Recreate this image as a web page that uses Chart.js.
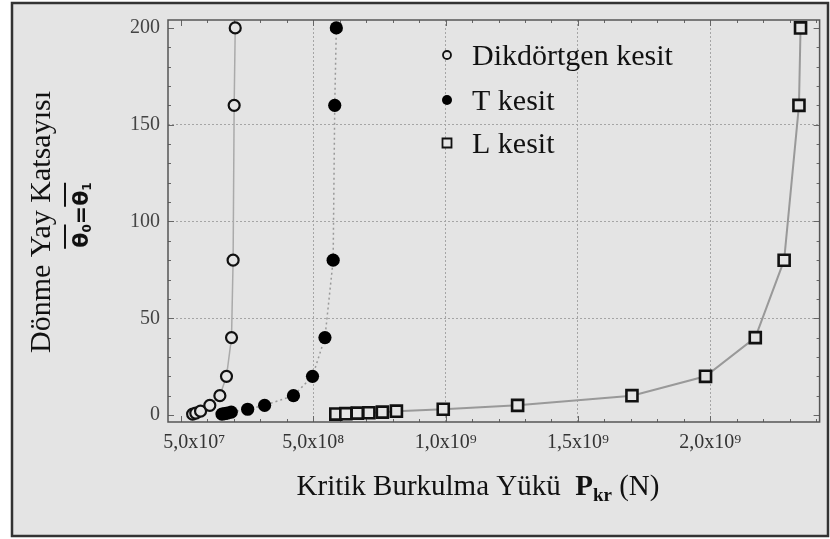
<!DOCTYPE html>
<html>
<head>
<meta charset="utf-8">
<script src="https://cdn.jsdelivr.net/npm/chart.js@4.4.0/dist/chart.umd.min.js"></script>
<style>
  html, body { margin: 0; padding: 0; background: #fff; }
  #wrap { width: 830px; height: 539px; }
</style>
</head>
<body>
<div id="wrap"><canvas id="grafik"></canvas></div>
<script>
// veriler
const dikX = [4.4e7, 5.6e7, 7.4e7, 1.09e8, 1.47e8, 1.72e8, 1.91e8, 1.97e8, 2.01e8, 2.05e8]
const dikY = [0.5, 1, 2, 5, 10, 20, 40, 80, 160, 200]
const tX = [1.55e8, 1.65e8, 1.75e8, 1.9e8, 2.52e8, 3.16e8, 4.25e8, 4.97e8, 5.44e8, 5.75e8, 5.81e8, 5.87e8]
const tY = [0.5, 0.7, 1, 1.5, 3, 5, 10, 20, 40, 80, 160, 200]
const lX = [5.85e8, 6.23e8, 6.66e8, 7.10e8, 7.61e8, 8.14e8, 9.91e8, 1.272e9, 1.704e9, 1.982e9, 2.170e9, 2.279e9, 2.335e9, 2.341e9]
const lY = [0.5, 0.7, 1, 1.2, 1.5, 2, 3, 5, 10, 20, 40, 80, 160, 200]

const seriesNames = ['Dikdörtgen kesit', 'T kesit', 'L kesit']
const xTickValues = [5e7, 5e8, 1e9, 1.5e9, 2e9]
const xTickLabels = ['5,0x10⁷', '5,0x10⁸', '1,0x10⁹', '1,5x10⁹', '2,0x10⁹']
const yTickValues = [0, 50, 100, 150, 200]

const BG = '#e4e4e4'
const serif = '"Liberation Serif", "Times New Roman", serif'

function pts(xs, ys) {
  return xs.map((x, i) => ({x: x, y: ys[i]}))
}

const decor = {
  id: 'decor',
  beforeDraw(chart) {
    const ctx = chart.ctx
    ctx.save()
    ctx.fillStyle = '#fff'
    ctx.fillRect(0, 0, chart.width, chart.height)
    ctx.fillStyle = BG
    ctx.fillRect(12, 3, 816, 533)
    ctx.strokeStyle = '#333'
    ctx.lineWidth = 2.5
    ctx.strokeRect(12, 3, 816, 533)
    ctx.restore()
  },
  beforeDatasetsDraw(chart) {
    const ctx = chart.ctx
    const a = chart.chartArea
    const xs = chart.scales.x, ys = chart.scales.y
    ctx.save()
    ctx.strokeStyle = '#666'
    ctx.lineWidth = 1
    // kucuk tikler
    for (let v = 0; v <= 2.4e9; v += 1e8) {
      const px = Math.round(xs.getPixelForValue(v)) + 0.5
      const len = (v % 5e8 === 0) ? 6 : 3
      ctx.beginPath()
      ctx.moveTo(px, a.bottom); ctx.lineTo(px, a.bottom - len)
      ctx.moveTo(px, a.top); ctx.lineTo(px, a.top + len)
      ctx.stroke()
    }
    for (let v = 0; v <= 200; v += 10) {
      const py = Math.round(ys.getPixelForValue(v)) + 0.5
      const len = (v % 50 === 0) ? 6 : 3
      ctx.beginPath()
      ctx.moveTo(a.left, py); ctx.lineTo(a.left + len, py)
      ctx.moveTo(a.right, py); ctx.lineTo(a.right - len, py)
      ctx.stroke()
    }
    ctx.strokeStyle = '#555'
    ctx.lineWidth = 1.5
    ctx.strokeRect(a.left, a.top, a.right - a.left, a.bottom - a.top)
    ctx.restore()
  },
  afterDraw(chart) {
    const ctx = chart.ctx
    ctx.save()
    ctx.fillStyle = '#111'

    // lejant
    const lx = 447, ltx = 472, rows = [55, 100, 143]
    ctx.font = '30px ' + serif
    ctx.textBaseline = 'middle'
    ctx.textAlign = 'left'
    chart.data.datasets.forEach((ds, i) => {
      const y = rows[i]
      ctx.lineWidth = 1.8
      ctx.strokeStyle = '#111'
      ctx.beginPath()
      if (ds.pointStyle === 'rect') {
        ctx.rect(lx - 4.5, y - 4.5, 9, 9)
        ctx.fillStyle = BG; ctx.fill(); ctx.stroke()
      } else if (ds.pointBackgroundColor === '#000') {
        ctx.arc(lx, y, 5, 0, Math.PI * 2)
        ctx.fillStyle = '#000'; ctx.fill()
      } else {
        ctx.arc(lx, y, 4, 0, Math.PI * 2)
        ctx.fillStyle = BG; ctx.fill(); ctx.stroke()
      }
      ctx.fillStyle = '#111'
      ctx.fillText(ds.label, ltx, y + 2)
    })

    // y ekseni basligi
    ctx.save()
    ctx.translate(42, 222)
    ctx.rotate(-Math.PI / 2)
    ctx.textAlign = 'center'
    ctx.textBaseline = 'middle'
    ctx.font = '30px ' + serif
    ctx.fillText('Dönme Yay Katsayısı', 0, 0)
    ctx.restore()

    // kesir: θ0=θ1 (ust cizgili)
    ctx.save()
    ctx.translate(88, 215)
    ctx.rotate(-Math.PI / 2)
    ctx.textAlign = 'left'
    ctx.textBaseline = 'alphabetic'
    const big = 'bold 22px "DejaVu Sans"', small = 'bold 12px "DejaVu Sans"'
    const parts = [['θ', big, 0, true], ['0', small, 3, false], ['=', big, 0, false], ['θ', big, 0, true], ['1', small, 3, false]]
    let total = 0
    parts.forEach(p => { ctx.font = p[1]; total += ctx.measureText(p[0]).width })
    let u = -total / 2
    ctx.strokeStyle = '#111'
    ctx.lineWidth = 2
    parts.forEach(p => {
      ctx.font = p[1]
      const w = ctx.measureText(p[0]).width
      ctx.fillText(p[0], u, p[2])
      if (p[3]) {
        ctx.beginPath()
        ctx.moveTo(u - 1, -23); ctx.lineTo(u + w + 8, -23)
        ctx.stroke()
      }
      u += w
    })
    ctx.restore()

    // x ekseni basligi
    const xparts = [['Kritik Burkulma Yükü  ', '29px ' + serif, 0], ['P', 'bold 29px ' + serif, 0], ['kr', 'bold 19px ' + serif, 6], [' (N)', '29px ' + serif, 0]]
    let tw = 0
    xparts.forEach(p => { ctx.font = p[1]; tw += ctx.measureText(p[0]).width })
    let x = 478 - tw / 2
    ctx.textAlign = 'left'
    ctx.textBaseline = 'alphabetic'
    xparts.forEach(p => {
      ctx.font = p[1]
      ctx.fillText(p[0], x, 495 + p[2])
      x += ctx.measureText(p[0]).width
    })
    ctx.restore()
  }
}

const ctx = document.getElementById('grafik').getContext('2d')
const grafik = new Chart(ctx, {
  type: 'scatter',
  data: {
    datasets: [{
      label: seriesNames[0],
      data: pts(dikX, dikY),
      showLine: true,
      borderColor: '#aaa',
      borderWidth: 1.5,
      pointStyle: 'circle',
      pointRadius: 5.5,
      pointBorderWidth: 2.2,
      pointBorderColor: '#111',
      pointBackgroundColor: BG
    }, {
      label: seriesNames[1],
      data: pts(tX, tY),
      showLine: true,
      borderColor: '#999',
      borderWidth: 1.5,
      borderDash: [2, 3],
      pointStyle: 'circle',
      pointRadius: 6.6,
      pointBorderWidth: 0,
      pointBorderColor: '#000',
      pointBackgroundColor: '#000'
    }, {
      label: seriesNames[2],
      data: pts(lX, lY),
      showLine: true,
      borderColor: '#999',
      borderWidth: 2,
      pointStyle: 'rect',
      pointRadius: 7.8,
      pointBorderWidth: 2.6,
      pointBorderColor: '#111',
      pointBackgroundColor: BG
    }]
  },
  options: {
    responsive: true,
    maintainAspectRatio: false,
    animation: false,
    layout: { padding: { left: 0, top: 20, right: 7, bottom: 0 } },
    plugins: {
      legend: { display: false },
      tooltip: { enabled: false }
    },
    scales: {
      x: {
        type: 'linear',
        min: -4.9e7,
        max: 2.413e9,
        afterBuildTicks: (s) => { s.ticks = xTickValues.map(v => ({value: v})) },
        afterFit: (s) => { s.height = 117 },
        border: { display: false, dash: [2, 2] },
        grid: {
          drawTicks: false,
          lineWidth: 1,
          color: (c) => (c.tick && c.tick.value >= 5e8) ? '#a5a5a5' : 'rgba(0,0,0,0)'
        },
        ticks: {
          padding: 9,
          maxRotation: 0,
          autoSkip: false,
          color: '#333',
          font: { family: serif, size: 20 },
          callback: (v) => xTickLabels[xTickValues.indexOf(v)]
        }
      },
      y: {
        min: -3.6,
        max: 204.1,
        afterBuildTicks: (s) => { s.ticks = yTickValues.map(v => ({value: v})) },
        afterFit: (s) => { s.width = 168 },
        border: { display: false, dash: [2, 2] },
        grid: {
          drawTicks: false,
          lineWidth: 1,
          color: (c) => (c.tick && c.tick.value > 0 && c.tick.value < 200) ? '#a5a5a5' : 'rgba(0,0,0,0)'
        },
        ticks: {
          padding: 8,
          color: '#444',
          font: { family: serif, size: 20 }
        }
      }
    }
  },
  plugins: [decor]
})
</script>
</body>
</html>
